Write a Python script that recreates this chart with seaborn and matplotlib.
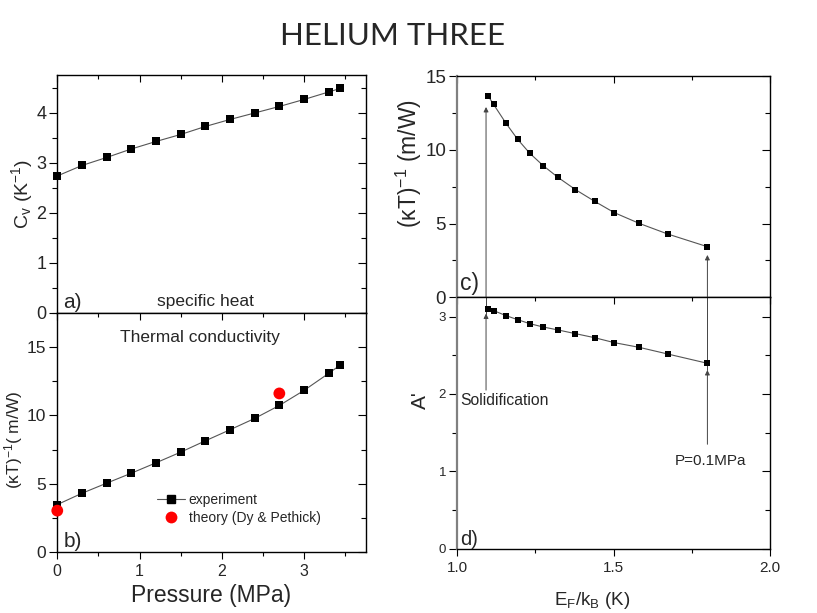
import matplotlib
matplotlib.use('Agg')
import matplotlib.pyplot as plt
from matplotlib.lines import Line2D
from matplotlib.ticker import MultipleLocator
import seaborn as sns

# Data
pressure = [0.0, 0.3, 0.6, 0.9, 1.2, 1.5, 1.8, 2.1, 2.4, 2.7, 3.0, 3.3, 3.44]
cv = [2.74, 2.95, 3.11, 3.28, 3.43, 3.57, 3.73, 3.87, 4.0, 4.13, 4.27, 4.42, 4.49]
kappa_inv = [3.47, 4.30, 5.04, 5.77, 6.53, 7.31, 8.14, 8.95, 9.78, 10.73, 11.83, 13.08, 13.69]
theory_p = [0.0, 2.7]
theory_k = [3.03, 11.61]

# right hand side, ordered from solidification down to 0.1 MPa
ef = [1.098, 1.116, 1.156, 1.193, 1.232, 1.275, 1.322, 1.378, 1.439, 1.502, 1.582, 1.673, 1.80]
kappa_inv_ef = [13.67, 13.08, 11.79, 10.71, 9.76, 8.92, 8.13, 7.30, 6.51, 5.74, 5.01, 4.29, 3.43]
a_prime = [3.095, 3.078, 3.013, 2.961, 2.909, 2.866, 2.828, 2.780, 2.728, 2.664, 2.603, 2.517, 2.397]

sns.set_style('ticks')
plt.rcParams['font.family'] = ['Liberation Sans', 'DejaVu Sans']
plt.rcParams['mathtext.fontset'] = 'custom'
plt.rcParams['mathtext.rm'] = 'Liberation Sans'
plt.rcParams['mathtext.it'] = 'Liberation Sans:italic'

fig = plt.figure(figsize=(8.17, 6.13), dpi=100)
ax_a = fig.add_axes([0.0701, 0.4894, 0.3775, 0.3883])
ax_b = fig.add_axes([0.0701, 0.0995, 0.3775, 0.3899])
ax_c = fig.add_axes([0.5597, 0.5150, 0.3827, 0.3610])
ax_d = fig.add_axes([0.5597, 0.1049, 0.3827, 0.4101])

line_col = '#555555'


def series(ax, x, y, ms):
    sns.lineplot(x=x, y=y, ax=ax, color=line_col, linewidth=0.8, sort=False)
    sns.scatterplot(x=x, y=y, ax=ax, marker='s', s=ms, color='black',
                    edgecolor='black', linewidth=0, zorder=3, clip_on=False)


def style_ticks(ax, lsize):
    for s in ax.spines.values():
        s.set_linewidth(1.0)
        s.set_color('black')
    ax.tick_params(which='both', top=True, right=True, labelsize=lsize,
                   width=0.8, color='black')
    ax.tick_params(axis='x', which='major', length=5, direction='out')
    ax.tick_params(axis='x', which='minor', length=3, direction='out')
    ax.tick_params(axis='y', which='major', length=6, direction='out', pad=2)
    ax.tick_params(axis='y', which='minor', length=3.5, direction='out')
    # ticks on top/right point inward and are shorter
    for t in ax.xaxis.get_major_ticks() + ax.xaxis.get_minor_ticks():
        t.tick2line.set_marker(3)
    for t in ax.yaxis.get_major_ticks() + ax.yaxis.get_minor_ticks():
        t.tick2line.set_marker(0)


# a) specific heat
series(ax_a, pressure, cv, 34)
ax_a.set_xlim(0, 3.75)
ax_a.set_ylim(0, 4.76)
ax_a.xaxis.set_major_locator(MultipleLocator(1))
ax_a.xaxis.set_minor_locator(MultipleLocator(0.5))
ax_a.yaxis.set_major_locator(MultipleLocator(1))
ax_a.yaxis.set_minor_locator(MultipleLocator(0.5))
ax_a.set_xticklabels([])
ax_a.set_xlabel('')
ax_a.set_ylabel(r'C$_\mathrm{v}$ (K$^\mathrm{-1}$)', fontsize=14, labelpad=1)
ax_a.text(0.02, 0.005, 'a)', transform=ax_a.transAxes, fontsize=15, va='bottom')
ax_a.text(1.8, 0.07, 'specific heat', fontsize=12.5, ha='center', va='bottom')
style_ticks(ax_a, 13)

# b) thermal conductivity
series(ax_b, pressure, kappa_inv, 34)
sns.scatterplot(x=theory_p, y=theory_k, ax=ax_b, color='red', s=72,
                edgecolor='none', zorder=4, clip_on=False)
ax_b.set_xlim(0, 3.75)
ax_b.set_ylim(0, 17.5)
ax_b.xaxis.set_major_locator(MultipleLocator(1))
ax_b.xaxis.set_minor_locator(MultipleLocator(0.5))
ax_b.yaxis.set_major_locator(MultipleLocator(5))
ax_b.yaxis.set_minor_locator(MultipleLocator(2.5))
ax_b.set_xlabel('Pressure (MPa)', fontsize=16.5, labelpad=4)
ax_b.set_ylabel('(κT)$^\\mathrm{-1}$( m/W)', fontsize=12.5, labelpad=1, y=0.47)
ax_b.text(0.02, 0.005, 'b)', transform=ax_b.transAxes, fontsize=15, va='bottom')
ax_b.text(1.73, 15.74, 'Thermal conductivity', fontsize=12.5, ha='center', va='center')
handles = [
    Line2D([], [], color=line_col, linewidth=0.8, marker='s', markersize=5.8,
           markerfacecolor='black', markeredgecolor='black'),
    Line2D([], [], linestyle='none', marker='o', markersize=8.5,
           markerfacecolor='red', markeredgecolor='none'),
]
ax_b.legend(handles, ['experiment', 'theory (Dy & Pethick)'], loc='upper left',
            bbox_to_anchor=(0.30, 0.275), frameon=False, fontsize=10,
            handlelength=2.0, handletextpad=0.3, borderpad=0, labelspacing=0.25)
style_ticks(ax_b, 12.5)
ax_b.tick_params(axis='x', labelsize=11.5)

# c) (kT)^-1 vs Fermi temperature
series(ax_c, ef, kappa_inv_ef, 18)
ax_c.set_xlim(1.0, 2.0)
ax_c.set_ylim(0, 15)
ax_c.xaxis.set_major_locator(MultipleLocator(0.5))
ax_c.xaxis.set_minor_locator(MultipleLocator(0.25))
ax_c.yaxis.set_major_locator(MultipleLocator(5))
ax_c.yaxis.set_minor_locator(MultipleLocator(2.5))
ax_c.set_xticklabels([])
ax_c.set_xlabel('')
ax_c.set_ylabel('(κT)$^\\mathrm{-1}$ (m/W)', fontsize=16.5, labelpad=1, y=0.605)
ax_c.text(0.01, 0.01, 'c)', transform=ax_c.transAxes, fontsize=16.5, va='bottom')
style_ticks(ax_c, 13.5)

# d) A'
series(ax_d, ef, a_prime, 18)
ax_d.set_xlim(1.0, 2.0)
ax_d.set_ylim(0, 3.25)
ax_d.xaxis.set_major_locator(MultipleLocator(0.5))
ax_d.xaxis.set_minor_locator(MultipleLocator(0.25))
ax_d.yaxis.set_major_locator(MultipleLocator(1))
ax_d.yaxis.set_minor_locator(MultipleLocator(0.5))
ax_d.set_xlabel(r'E$_\mathrm{F}$/k$_\mathrm{B}$ (K)', fontsize=13.5, labelpad=11, x=0.431)
ax_d.set_ylabel("A'", fontsize=15, labelpad=6, y=0.59)
ax_d.text(0.01, 0.0, 'd)', transform=ax_d.transAxes, fontsize=14.5, va='bottom')
style_ticks(ax_d, 9.5)
ax_d.tick_params(axis='x', labelsize=11)

# Origin-style grey left frame on the right-hand panels
for ax in (ax_c, ax_d):
    ax.spines['left'].set_color('#808080')
    ax.spines['left'].set_linewidth(1.6)

# arrows marking solidification and P = 0.1 MPa
arrow = dict(arrowstyle='-|>', color='#444444', linewidth=0.7,
             mutation_scale=7, shrinkA=0, shrinkB=0)
x_sol, x_low = 1.092, 1.80
ax_c.annotate('', xy=(x_sol, 12.9), xytext=(x_sol, 0), arrowprops=arrow)
ax_c.annotate('', xy=(x_low, 2.87), xytext=(x_low, 0), arrowprops=arrow)
ax_d.annotate('', xy=(x_sol, 3.04), xytext=(x_sol, 2.05), arrowprops=arrow)
ax_d.annotate('', xy=(x_low, 2.31), xytext=(x_low, 1.35), arrowprops=arrow)
ax_d.plot([x_sol, x_sol], [3.04, 3.25], color='#444444', linewidth=0.7)
ax_d.plot([x_low, x_low], [2.31, 3.25], color='#444444', linewidth=0.7)
ax_d.text(1.009, 1.91, 'Solidification', fontsize=11.3, ha='left', va='center')
ax_d.text(1.81, 1.14, 'P=0.1MPa', fontsize=11, ha='center', va='center')

fig.text(0.48, 0.9405, 'HELIUM THREE', fontsize=22.5, ha='center', va='center',
         family=['Lato', 'DejaVu Sans'])

fig.savefig('out.png', dpi=100)
